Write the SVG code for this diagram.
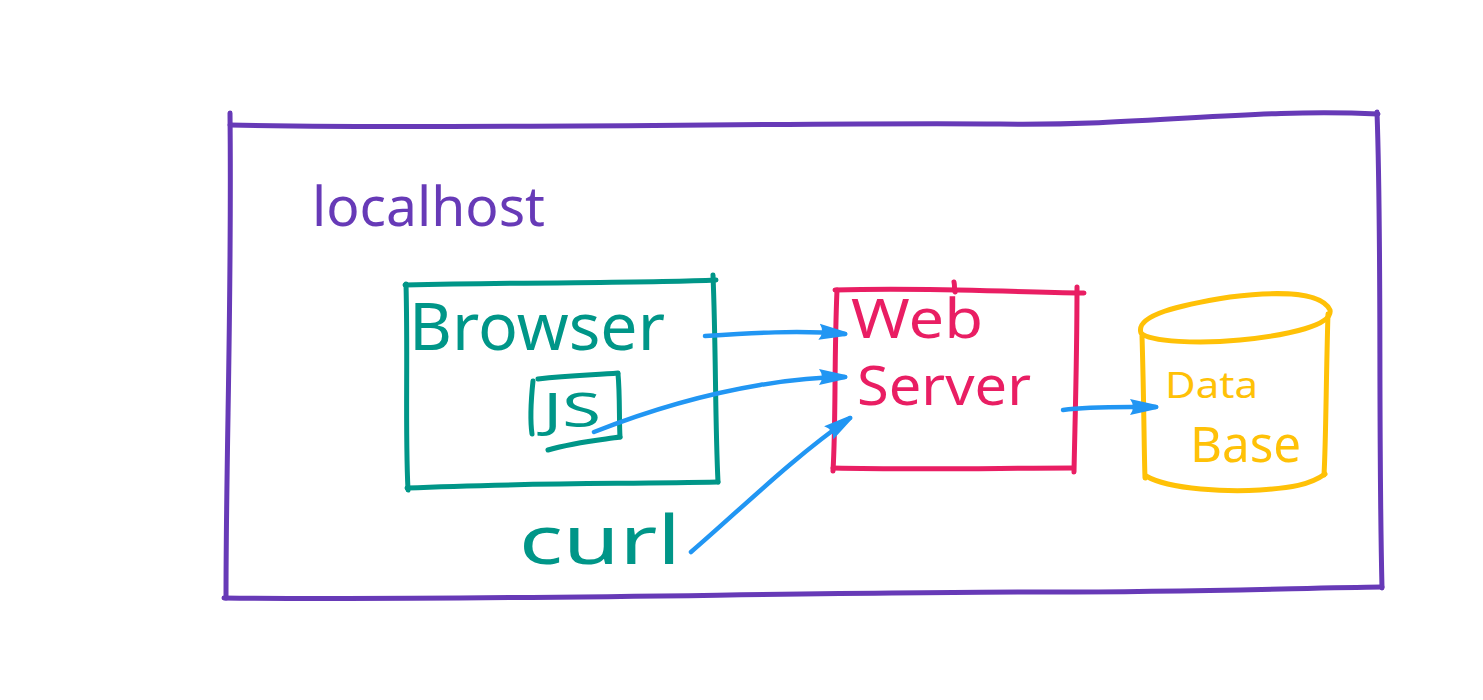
<svg xmlns="http://www.w3.org/2000/svg" width="1483" height="700" viewBox="0 0 1483 700">
  <style>
    .s { fill: none; stroke-width: 5; stroke-linecap: round; stroke-linejoin: round; }
    .purple { stroke: #673AB7; }
    .teal { stroke: #009688; }
    .red { stroke: #E91E63; }
    .amber { stroke: #FFC107; }
    .arrow { fill: none; stroke: #2196F3; stroke-width: 4.5; stroke-linecap: round; marker-end: url(#ah); }
    .t { font-family: "Noto Sans", "DejaVu Sans", sans-serif; font-weight: 400; }
  </style>
  <defs>
    <marker id="ah" viewBox="0 0 30 20" refX="26" refY="10" markerWidth="30" markerHeight="20" markerUnits="userSpaceOnUse" orient="auto">
      <path d="M0,2 L27,8 Q30,10 27,12 L0,18 Q6,10 0,2 Z" fill="#2196F3"/>
    </marker>
  </defs>
  <rect width="1483" height="700" fill="#ffffff"/>

  <g id="localhost">
    <path class="s purple" d="M230,113 C232,300 226,450 226,598"/>
    <path class="s purple" d="M230,125 C500,130 800,122 1000,124 C1150,126 1250,108 1378,114"/>
    <path class="s purple" d="M1377,112 C1382,250 1378,420 1382,588"/>
    <path class="s purple" d="M224,598 C500,601 800,592 1050,592 C1200,592 1300,588 1382,587"/>
    <text class="t" x="312" y="226" font-size="54" fill="#673AB7" textLength="233" lengthAdjust="spacingAndGlyphs">localhost</text>
  </g>

  <g id="browser">
    <path class="s teal" d="M405,285 C550,282 650,283 716,280"/>
    <path class="s teal" d="M713,275 C716,350 715,420 718,482"/>
    <path class="s teal" d="M406,284 C408,360 405,430 408,490"/>
    <path class="s teal" d="M407,488 C520,483 620,484 718,482"/>
    <text class="t" x="409" y="350" font-size="66" fill="#009688" textLength="256" lengthAdjust="spacingAndGlyphs">Browser</text>
  </g>

  <g id="js">
    <path class="s teal" d="M533,381 C531,400 530,420 532,434"/>
    <path class="s teal" d="M538,379 C570,375 595,375 618,373"/>
    <path class="s teal" d="M618,374 C620,395 619,420 620,437"/>
    <path class="s teal" d="M548,450 C575,442 600,440 620,437"/>
    <text class="t" x="543" y="427" font-size="48" fill="#009688" textLength="58" lengthAdjust="spacingAndGlyphs">JS</text>
  </g>

  <g id="curl">
    <text class="t" x="519" y="564" font-size="68" fill="#009688" textLength="162" lengthAdjust="spacingAndGlyphs">curl</text>
  </g>

  <g id="webserver">
    <path class="s red" d="M835,290 C930,287 1000,292 1084,293"/>
    <path class="s red" d="M954,282 C955,286 954,290 955,292"/>
    <path class="s red" d="M837,290 C834,360 836,420 833,471"/>
    <path class="s red" d="M1077,287 C1077,360 1075,420 1074,472"/>
    <path class="s red" d="M833,468 C920,470 1000,468 1073,468"/>
    <text class="t" x="851" y="338" font-size="54" fill="#E91E63" textLength="132" lengthAdjust="spacingAndGlyphs">Web</text>
    <text class="t" x="857" y="405" font-size="54" fill="#E91E63" textLength="174" lengthAdjust="spacingAndGlyphs">Server</text>
  </g>

  <g id="database">
    <path class="s amber" d="M1141,333 C1135,315 1180,305 1230,297 C1270,292 1320,290 1330,310 C1333,325 1290,335 1240,340 C1200,344 1150,342 1141,333 Z"/>
    <path class="s amber" d="M1142,336 C1144,400 1144,450 1145,478"/>
    <path class="s amber" d="M1328,314 C1326,380 1326,440 1324,475"/>
    <path class="s amber" d="M1146,476 C1170,490 1230,492 1260,490 C1290,488 1310,485 1325,474"/>
    <text class="t" x="1165" y="398" font-size="36" fill="#FFC107" textLength="93" lengthAdjust="spacingAndGlyphs">Data</text>
    <text class="t" x="1190" y="462" font-size="50" fill="#FFC107" textLength="111" lengthAdjust="spacingAndGlyphs">Base</text>
  </g>

  <g id="connectors">
    <path class="arrow" d="M705,336 C750,333 800,330 845,334"/>
    <path class="arrow" d="M594,432 C650,410 700,395 760,385 C790,380 820,377 845,377"/>
    <path class="arrow" d="M691,552 C740,510 790,460 850,418"/>
    <path class="arrow" d="M1063,410 C1090,406 1120,407 1156,407"/>
  </g>
</svg>
